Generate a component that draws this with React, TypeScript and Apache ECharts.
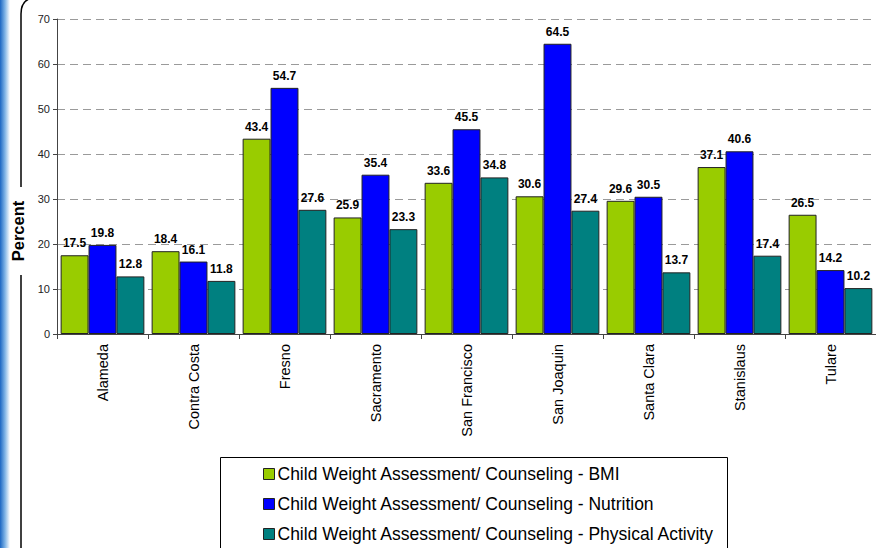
import React, { useEffect, useRef } from "react";
import * as echarts from "echarts";

const categories = ["Alameda", "Contra Costa", "Fresno", "Sacramento", "San Francisco", "San Joaquin", "Santa Clara", "Stanislaus", "Tulare"];
const seriesNames = [
  "Child Weight Assessment/ Counseling - BMI",
  "Child Weight Assessment/ Counseling - Nutrition",
  "Child Weight Assessment/ Counseling - Physical Activity",
];
const bmi = [17.5, 18.4, 43.4, 25.9, 33.6, 30.6, 29.6, 37.1, 26.5];
const nutrition = [19.8, 16.1, 54.7, 35.4, 45.5, 64.5, 30.5, 40.6, 14.2];
const physical = [12.8, 11.8, 27.6, 23.3, 34.8, 27.4, 13.7, 17.4, 10.2];
const colors = ["#99CC00", "#0000FF", "#008080"];
const yTitle = "Percent";

export default function App() {
  const ref = useRef<HTMLDivElement>(null);
  useEffect(() => {
    if (!ref.current) return;
    const chart = echarts.init(ref.current, undefined, { renderer: "svg" });
    const data = [bmi, nutrition, physical];
    chart.setOption({
      animation: false,
      backgroundColor: "#ffffff",
      textStyle: { fontFamily: "Liberation Sans, Arial, sans-serif" },
      grid: { left: 57, top: 19, right: 0, bottom: 214 },
      legend: {
        orient: "vertical",
        left: 258,
        top: 459,
        width: 480,
        height: 120,
        itemGap: 10,
        itemWidth: 11,
        itemHeight: 11,
        icon: "rect",
        data: seriesNames,
        itemStyle: { borderColor: "#222", borderWidth: 1 },
        textStyle: { fontSize: 17.5, lineHeight: 20, color: "#000", fontFamily: "Liberation Sans, Arial, sans-serif", padding: [0, 0, 0, -2] },
      },
      xAxis: {
        type: "category",
        data: categories,
        axisLine: { lineStyle: { color: "#444", width: 1 } },
        axisTick: { show: true, length: 5, alignWithLabel: false, lineStyle: { color: "#444" } },
        axisLabel: { rotate: 90, fontSize: 14.5, color: "#000", margin: 10, interval: 0 },
      },
      yAxis: {
        type: "value",
        min: 0,
        max: 70,
        interval: 10,
        axisLine: { show: true, lineStyle: { color: "#444" } },
        axisTick: { show: true, length: 4, lineStyle: { color: "#444" } },
        axisLabel: { fontSize: 11, color: "#222", margin: 7 },
        splitLine: { show: true, lineStyle: { color: "#9a9a9a", type: [8, 5], width: 1 } },
      },
      series: seriesNames.map((n, i) => ({
        name: n,
        type: "bar",
        data: data[i],
        barGap: "0%",
        barCategoryGap: "8%",
        itemStyle: { color: colors[i], borderColor: "#222", borderWidth: 1 },
        label: {
          show: true,
          position: "top",
          distance: 6,
          fontSize: 12,
          fontWeight: "bold",
          color: "#000",
          formatter: (p: any) => p.value.toFixed(1),
        },
      })),
      graphic: [
        {
          type: "rect",
          shape: { x: 0, y: 0, width: 10, height: 548 },
          style: {
            fill: new echarts.graphic.LinearGradient(0, 0, 1, 0, [
              { offset: 0, color: "#1a66c2" },
              { offset: 0.5, color: "#7fb4e6" },
              { offset: 1, color: "#ffffff" },
            ]),
          },
          silent: true,
        },
        {
          type: "line",
          shape: { x1: 21, y1: 14, x2: 21, y2: 187 },
          style: { stroke: "#000", lineWidth: 1.5 },
          silent: true,
        },
        {
          type: "bezierCurve",
          shape: { x1: 21, y1: 14, cpx1: 21, cpy1: 5, cpx2: 24, cpy2: 1, x2: 29, y2: -1 },
          style: { stroke: "#000", lineWidth: 1.5, fill: "none" },
          silent: true,
        },
        {
          type: "line",
          shape: { x1: 21, y1: 275, x2: 21, y2: 548 },
          style: { stroke: "#000", lineWidth: 1.5 },
          silent: true,
        },
        {
          type: "text",
          x: 18,
          y: 231,
          rotation: Math.PI / 2,
          style: {
            text: yTitle,
            fontSize: 16.5,
            fontWeight: "bold",
            fill: "#000",
            fontFamily: "Liberation Sans, Arial, sans-serif",
            align: "center",
            verticalAlign: "middle",
          },
          silent: true,
        },
        {
          type: "rect",
          shape: { x: 220.5, y: 457.5, width: 507, height: 100 },
          style: { fill: "none", stroke: "#000", lineWidth: 1 },
          silent: true,
          z: -1,
        },
      ],
    });
    return () => chart.dispose();
  }, []);
  return <div ref={ref} style={{ position: "fixed", left: 0, top: 0, width: 876, height: 548 }} />;
}
